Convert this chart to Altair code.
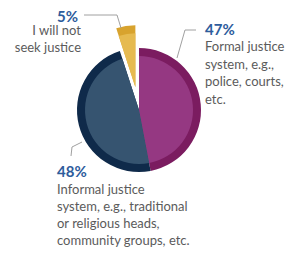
import altair as alt
import pandas as pd

# ---- data ----
categories = ["Formal", "Informal", "None"]
values = [47, 48, 5]
outer_colors = ["#7b1c60", "#0f2a4a", "#d8a32e"]
inner_colors = ["#953882", "#365470", "#e6ba50"]
pct_labels = [f"{v}%" for v in values]
formal_lines = ["Formal justice", "system, e.g.,", "police,  courts,", "etc."]
informal_lines = ["Informal justice", "system, e.g., traditional", "or religious heads,", "community groups, etc."]
none_lines = ["I will not", "seek justice"]

df = pd.DataFrame({"cat": categories, "value": values, "order": [0, 1, 2]})

# ---- layout ----
CX, CY = 131, 102
R_OUT, R_IN = 62, 54
DX, DY = -3.6, -22.7
TEXT_GRAY = "#5b5b5b"
PCT_BLUE = "#2d5c9c"
FONT = "Lato"

base = alt.Chart(df).encode(
    theta=alt.Theta("value:Q", stack=True),
    order=alt.Order("order:Q"),
    x=alt.value(CX),
    y=alt.value(CY),
)

def color(rng):
    return alt.Color("cat:N", scale=alt.Scale(domain=categories, range=rng), legend=None)

main_op = alt.condition(alt.datum.cat == "None", alt.value(0), alt.value(1))
yel_op = alt.condition(alt.datum.cat == "None", alt.value(1), alt.value(0))

outer = base.mark_arc(radius=R_OUT).encode(color=color(outer_colors), opacity=main_op)
inner = base.mark_arc(radius=R_IN).encode(color=color(inner_colors), opacity=main_op)
y_outer = base.mark_arc(radius=R_OUT, xOffset=DX, yOffset=DY).encode(color=color(outer_colors), opacity=yel_op)
y_inner = base.mark_arc(radius=R_IN, xOffset=DX, yOffset=DY).encode(color=color(inner_colors), opacity=yel_op)

pie = alt.layer(outer, inner, y_outer, y_inner).resolve_scale(color="independent")

leaders = pd.DataFrame({
    "x": [76, 109, 188, 177, 74, 64],
    "y": [7, 7, 22, 22, 134, 139],
    "x2": [109, 113, 177, 169, 64, 63],
    "y2": [7, 20, 22, 50, 139, 148],
})
lines = alt.Chart(leaders).mark_rule(color="#a0a0a0", strokeWidth=1).encode(
    x=alt.X("x:Q", scale=None), y=alt.Y("y:Q", scale=None),
    x2="x2:Q", y2="y2:Q",
)

one = alt.Data(values=[{"a": 1}])

def txt(text, x, y, align, color, size, weight, baseline, lh=17.6):
    return alt.Chart(one).mark_text(
        text=text, align=align, baseline=baseline, font=FONT, fontSize=size,
        fontWeight=weight, color=color, lineHeight=lh,
    ).encode(x=alt.value(x), y=alt.value(y))

texts = [
    txt(pct_labels[0], 197, 22, "left", PCT_BLUE, 15, "bold", "middle"),
    txt(formal_lines, 197, 33, "left", TEXT_GRAY, 13, "normal", "top", 17.5),
    txt(pct_labels[1], 49, 164, "left", PCT_BLUE, 15, "bold", "middle"),
    txt(informal_lines, 49, 176, "left", TEXT_GRAY, 13, "normal", "top", 16.9),
    txt(pct_labels[2], 70, 8.5, "right", PCT_BLUE, 15, "bold", "middle"),
    txt(none_lines, 73, 16.5, "right", TEXT_GRAY, 13, "normal", "top", 17),
]

chart = alt.layer(pie, lines, *texts).properties(
    width=280, height=239, padding=0, autosize="none"
).configure_view(stroke=None)

chart.save("out.html", embed_options={"renderer": "svg", "actions": False})
